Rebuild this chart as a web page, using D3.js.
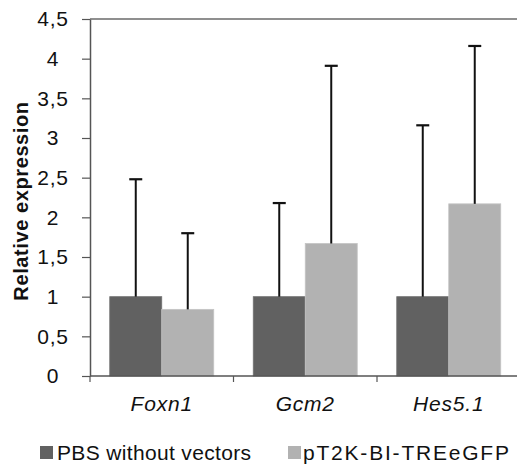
<!DOCTYPE html>
<html>
<head>
<meta charset="utf-8">
<script src="https://cdn.jsdelivr.net/npm/d3@7"></script>
<style>
  html, body { margin: 0; padding: 0; background: #fff; }
  svg { display: block; font-family: "Liberation Sans", Arial, sans-serif; }
</style>
</head>
<body>
<svg id="chart" width="517" height="466"></svg>
<script>
// Gene targets and the two treatment groups
const genes = ["Foxn1", "Gcm2", "Hes5.1"];
const groups = ["PBS without vectors", "pT2K-BI-TREeGFP"];
const groupColors = ["#616161", "#b2b2b2"];

// Mean relative expression per gene, one array per group
const pbsMeans = [1.0, 1.0, 1.0];
const vectorMeans = [0.84, 1.67, 2.17];
// Upper error (standard deviation) per gene
const pbsErr = [1.48, 1.18, 2.16];
const vectorErr = [0.96, 2.24, 1.99];

const yTicks = [0, 0.5, 1, 1.5, 2, 2.5, 3, 3.5, 4, 4.5];

const rows = genes.map((g, i) => ({
  gene: g,
  values: [
    { group: groups[0], mean: pbsMeans[i], err: pbsErr[i] },
    { group: groups[1], mean: vectorMeans[i], err: vectorErr[i] }
  ]
}));

const svg = d3.select("#chart");
const plotLeft = 90, plotRight = 520.5, plotTop = 19, plotBottom = 376;

const x0 = d3.scaleBand().domain(genes).range([plotLeft, plotRight]).padding(0);
const x1 = d3.scaleBand().domain(groups).range([0, x0.bandwidth()])
  .paddingInner(0).paddingOuter(0.38);
const y = d3.scaleLinear().domain([0, 4.5]).range([plotBottom, plotTop]);
const color = d3.scaleOrdinal().domain(groups).range(groupColors);

const comma = d3.formatLocale({ decimal: ",", thousands: ".", grouping: [3], currency: ["", ""] }).format("~g");

// Top frame line at the axis maximum
svg.append("line")
  .attr("x1", plotLeft).attr("x2", 517)
  .attr("y1", y(4.5)).attr("y2", y(4.5))
  .attr("stroke", "#6a6a6a").attr("stroke-width", 1.5);

// Bars
const gGroups = svg.append("g").selectAll("g")
  .data(rows).join("g")
  .attr("transform", d => `translate(${x0(d.gene)},0)`);

gGroups.selectAll("rect")
  .data(d => d.values).join("rect")
  .attr("x", d => x1(d.group))
  .attr("y", d => y(d.mean))
  .attr("width", x1.bandwidth())
  .attr("height", d => y(0) - y(d.mean))
  .attr("fill", d => color(d.group))
  .attr("stroke", (d, i) => i === 0 ? "#727272" : "#c4c4c4")
  .attr("stroke-width", 0.8);

// Upper error bars
const capHalf = 6.5;
const eb = gGroups.selectAll("g.err")
  .data(d => d.values).join("g").attr("class", "err");
eb.append("line")
  .attr("x1", d => x1(d.group) + x1.bandwidth() / 2)
  .attr("x2", d => x1(d.group) + x1.bandwidth() / 2)
  .attr("y1", d => y(d.mean))
  .attr("y2", d => y(d.mean + d.err))
  .attr("stroke", "#111").attr("stroke-width", 2);
eb.append("line")
  .attr("x1", d => x1(d.group) + x1.bandwidth() / 2 - capHalf)
  .attr("x2", d => x1(d.group) + x1.bandwidth() / 2 + capHalf)
  .attr("y1", d => y(d.mean + d.err))
  .attr("y2", d => y(d.mean + d.err))
  .attr("stroke", "#111").attr("stroke-width", 2.2);

// Y axis
const yAxis = svg.append("g")
  .attr("transform", `translate(${plotLeft},0)`)
  .call(d3.axisLeft(y).tickValues(yTicks).tickFormat(comma).tickSize(8).tickSizeOuter(0));
yAxis.select(".domain").attr("stroke", "#555").attr("stroke-width", 1.5);
yAxis.selectAll(".tick line").attr("stroke", "#555").attr("stroke-width", 1.2);
yAxis.selectAll(".tick text")
  .attr("x", -37)
  .attr("text-anchor", "middle")
  .attr("fill", "#111")
  .style("font-size", "21px")
  .style("letter-spacing", "0.8px")
  .style("font-family", "'Liberation Sans', Arial, sans-serif");

// X axis line and category boundary ticks
svg.append("line")
  .attr("x1", plotLeft).attr("x2", 517)
  .attr("y1", y(0)).attr("y2", y(0))
  .attr("stroke", "#555").attr("stroke-width", 1.5);
const bounds = genes.map(g => x0(g)).concat([x0(genes[genes.length - 1]) + x0.bandwidth()]);
svg.append("g").selectAll("line")
  .data(bounds).join("line")
  .attr("x1", d => d).attr("x2", d => d)
  .attr("y1", y(0)).attr("y2", y(0) + 6)
  .attr("stroke", "#555").attr("stroke-width", 1.2);

// Category labels
svg.append("g").selectAll("text")
  .data(genes).join("text")
  .attr("x", d => x0(d) + x0.bandwidth() / 2)
  .attr("y", 411)
  .attr("text-anchor", "middle")
  .attr("fill", "#111")
  .style("font-size", "21px")
  .style("font-style", "italic")
  .style("letter-spacing", "0.8px")
  .text(d => d);

// Y axis title
svg.append("text")
  .attr("transform", "translate(28,201) rotate(-90)")
  .attr("text-anchor", "middle")
  .attr("fill", "#111")
  .style("font-size", "20px")
  .style("font-weight", "bold")
  .style("letter-spacing", "0.6px")
  .text("Relative expression");

// Legend
const legendItems = [
  { label: groups[0], sx: 40, tx: 57, len: 194 },
  { label: groups[1], sx: 288, tx: 303, len: 206 }
];
const lg = svg.append("g").selectAll("g")
  .data(legendItems).join("g");
lg.append("rect")
  .attr("x", d => d.sx).attr("y", 446)
  .attr("width", 13).attr("height", 13)
  .attr("fill", d => color(d.label));
lg.append("text")
  .attr("x", d => d.tx).attr("y", 460)
  .attr("fill", "#111")
  .attr("textLength", d => d.len)
  .attr("lengthAdjust", "spacing")
  .style("font-size", "21px")
  .text(d => d.label);
</script>
</body>
</html>
